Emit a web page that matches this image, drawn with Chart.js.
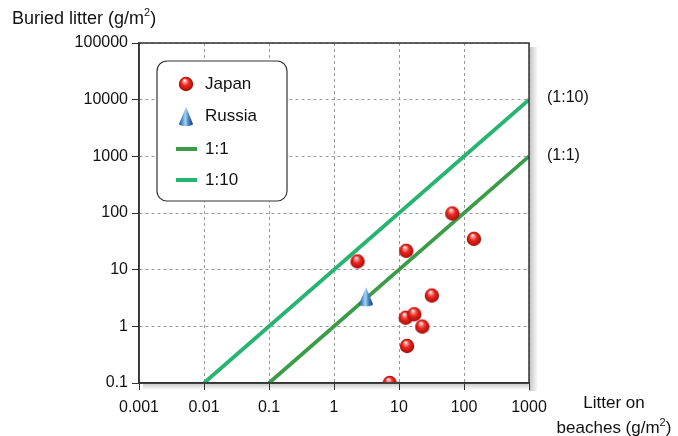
<!DOCTYPE html>
<html>
<head>
<meta charset="utf-8">
<script src="https://cdn.jsdelivr.net/npm/chart.js@4"></script>
<style>
  html, body { margin: 0; padding: 0; background: #fff; }
</style>
</head>
<body>
<canvas id="chart" width="678" height="436"></canvas>
<script>
// tick values on both log axes
const xTicks = [0.001, 0.01, 0.1, 1, 10, 100, 1000];
const yTicks = [0.1, 1, 10, 100, 1000, 10000, 100000];

// litter on beaches (x) vs buried litter (y), g/m2
const japanX = [2.3, 12.9, 66, 142, 32, 12.7, 17.2, 22.8, 13.3, 7.2];
const japanY = [14, 21.5, 98, 35, 3.5, 1.42, 1.63, 0.99, 0.45, 0.1];
const russiaX = [3.1];
const russiaY = [3.4];

// reference lines
const oneToOneX = [0.1, 1000];
const oneToOneY = [0.1, 1000];
const oneToTenX = [0.01, 1000];
const oneToTenY = [0.1, 10000];

const FONT = "'Liberation Sans', Arial, sans-serif";

function pts(xs, ys) {
    return xs.map((x, i) => ({ x: x, y: ys[i] }));
}

function makeSphere() {
    const c = document.createElement('canvas');
    c.width = 22; c.height = 32;
    const g = c.getContext('2d');
    const cx = 11, cy = 16, r = 7.2;
    // soft shadow underneath
    const sh = g.createRadialGradient(cx, cy + r + 2, 0, cx, cy + r + 2, 8);
    sh.addColorStop(0, 'rgba(120,120,120,0.55)');
    sh.addColorStop(1, 'rgba(120,120,120,0)');
    g.save();
    g.translate(cx, cy + r + 2);
    g.scale(1, 0.45);
    g.fillStyle = sh;
    g.beginPath(); g.arc(0, 0, 8, 0, Math.PI * 2); g.fill();
    g.restore();
    const grad = g.createRadialGradient(cx - 1.5, cy - 3.8, 0.3, cx, cy, r);
    grad.addColorStop(0, '#ffffff');
    grad.addColorStop(0.18, '#ff9a9a');
    grad.addColorStop(0.5, '#e8281f');
    grad.addColorStop(0.85, '#c0120c');
    grad.addColorStop(1, '#900806');
    g.fillStyle = grad;
    g.beginPath(); g.arc(cx, cy, r, 0, Math.PI * 2); g.fill();
    return c;
}

function makeCone() {
    const c = document.createElement('canvas');
    c.width = 22; c.height = 34;
    const g = c.getContext('2d');
    const cx = 11, top = 8, base = 25, hw = 7;
    const sh = g.createRadialGradient(cx, base + 3, 0, cx, base + 3, 8);
    sh.addColorStop(0, 'rgba(120,120,120,0.5)');
    sh.addColorStop(1, 'rgba(120,120,120,0)');
    g.save();
    g.translate(cx, base + 3);
    g.scale(1, 0.45);
    g.fillStyle = sh;
    g.beginPath(); g.arc(0, 0, 8, 0, Math.PI * 2); g.fill();
    g.restore();
    const grad = g.createLinearGradient(cx - hw, 0, cx + hw, 0);
    grad.addColorStop(0, '#1a4f8c');
    grad.addColorStop(0.3, '#6aa8dc');
    grad.addColorStop(0.45, '#a9d3f2');
    grad.addColorStop(0.7, '#3f7fc0');
    grad.addColorStop(1, '#123a6e');
    g.fillStyle = grad;
    g.beginPath();
    g.moveTo(cx, top);
    g.lineTo(cx + hw, base);
    g.ellipse(cx, base, hw, 2.2, 0, 0, Math.PI);
    g.closePath();
    g.fill();
    return c;
}

const sphere = makeSphere();
const cone = makeCone();

// text with a raised small "2" (g/m2)
function supText(ctx, head, sup, tail, x, y, size, align) {
    ctx.font = size + 'px ' + FONT;
    const wh = ctx.measureText(head).width;
    const wt = ctx.measureText(tail).width;
    ctx.font = Math.round(size * 0.62) + 'px ' + FONT;
    const ws = ctx.measureText(sup).width;
    let x0 = x;
    if (align === 'center') x0 = x - (wh + ws + wt) / 2;
    ctx.textAlign = 'left';
    ctx.font = size + 'px ' + FONT;
    ctx.fillText(head, x0, y);
    ctx.fillText(tail, x0 + wh + ws, y);
    ctx.font = Math.round(size * 0.62) + 'px ' + FONT;
    ctx.fillText(sup, x0 + wh, y - size * 0.32);
}

const framePlugin = {
    id: 'frame',
    beforeDraw(chart) {
        const { ctx, chartArea: a } = chart;
        ctx.save();
        // grey drop shadow at right and bottom
        const gr = ctx.createLinearGradient(a.right, 0, a.right + 9, 0);
        gr.addColorStop(0, 'rgba(150,150,150,0.6)');
        gr.addColorStop(1, 'rgba(150,150,150,0)');
        ctx.fillStyle = gr;
        ctx.fillRect(a.right, a.top + 4, 9, a.bottom - a.top + 4);
        const gb = ctx.createLinearGradient(0, a.bottom, 0, a.bottom + 7);
        gb.addColorStop(0, 'rgba(150,150,150,0.55)');
        gb.addColorStop(1, 'rgba(150,150,150,0)');
        ctx.fillStyle = gb;
        ctx.fillRect(a.left + 4, a.bottom, a.right - a.left - 4, 7);
        ctx.restore();
    },
    afterDraw(chart) {
        const { ctx, chartArea: a, scales } = chart;
        ctx.save();
        ctx.strokeStyle = '#333';
        ctx.lineWidth = 1.5;
        ctx.strokeRect(a.left, a.top, a.right - a.left, a.bottom - a.top);

        ctx.fillStyle = '#111';
        ctx.font = '16px ' + FONT;
        ctx.textBaseline = 'middle';
        ctx.textAlign = 'left';
        ctx.fillText('(1:10)', a.right + 18, scales.y.getPixelForValue(10000) - 2);
        ctx.fillText('(1:1)', a.right + 18, scales.y.getPixelForValue(1000) - 1);

        supText(ctx, 'Buried litter (g/m', '2', ')', 12, 19, 18, 'left');
        ctx.font = '17px ' + FONT;
        ctx.textAlign = 'center';
        ctx.fillText('Litter on', 614, 403);
        supText(ctx, 'beaches (g/m', '2', ')', 614, 428, 17, 'center');

        // legend box
        const bx = a.left + 18, by = a.top + 18, bw = 130, bh = 140;
        ctx.beginPath();
        ctx.roundRect(bx, by, bw, bh, 10);
        ctx.fillStyle = '#fff';
        ctx.fill();
        ctx.strokeStyle = '#333';
        ctx.lineWidth = 1.2;
        ctx.stroke();

        const rows = [84, 116, 149, 180];
        chart.data.datasets.forEach((ds, i) => {
            const y = rows[i];
            const ix = bx + 29;
            if (ds.showLine) {
                ctx.strokeStyle = ds.borderColor;
                ctx.lineWidth = 4;
                ctx.beginPath();
                ctx.moveTo(ix - 10, y);
                ctx.lineTo(ix + 11, y);
                ctx.stroke();
            } else {
                const img = ds.pointStyle;
                ctx.drawImage(img, ix - img.width / 2, y - img.height / 2);
            }
            ctx.fillStyle = '#111';
            ctx.textAlign = 'left';
            ctx.font = '17px ' + FONT;
            ctx.fillText(ds.label, bx + 48, y);
        });
        ctx.restore();
    }
};

const ctx = document.getElementById('chart').getContext('2d');
new Chart(ctx, {
    type: 'scatter',
    data: {
        datasets: [
            {
                label: 'Japan',
                data: pts(japanX, japanY),
                pointStyle: sphere,
                order: 1
            },
            {
                label: 'Russia',
                data: pts(russiaX, russiaY),
                pointStyle: cone,
                order: 0
            },
            {
                label: '1:1',
                data: pts(oneToOneX, oneToOneY),
                showLine: true,
                borderColor: '#3b9c48',
                borderWidth: 3.8,
                pointRadius: 0,
                order: 3
            },
            {
                label: '1:10',
                data: pts(oneToTenX, oneToTenY),
                showLine: true,
                borderColor: '#25b570',
                borderWidth: 3.8,
                pointRadius: 0,
                order: 2
            }
        ]
    },
    options: {
        responsive: false,
        animation: false,
        events: [],
        layout: { padding: { top: 43, right: 149, left: 0, bottom: 0 } },
        plugins: {
            legend: { display: false },
            tooltip: { enabled: false }
        },
        scales: {
            x: {
                type: 'logarithmic',
                min: 0.001,
                max: 1000,
                afterBuildTicks: s => { s.ticks = xTicks.map(v => ({ value: v })); },
                afterFit: s => { s.height = 53; },
                ticks: {
                    callback: v => String(v),
                    color: '#111',
                    font: { family: FONT, size: 16 },
                    padding: 8,
                    maxRotation: 0,
                    autoSkip: false
                },
                grid: {
                    color: '#9a9a9a',
                    tickColor: '#333',
                    tickLength: 7,
                    tickBorderDash: []
                },
                border: { color: '#333', width: 1.5, dash: [3, 3] }
            },
            y: {
                type: 'logarithmic',
                min: 0.1,
                max: 100000,
                afterBuildTicks: s => { s.ticks = yTicks.map(v => ({ value: v })); },
                afterFit: s => { s.width = 139; },
                ticks: {
                    callback: v => String(v),
                    color: '#111',
                    font: { family: FONT, size: 16 },
                    padding: 4,
                    autoSkip: false
                },
                grid: {
                    color: '#9a9a9a',
                    tickColor: '#333',
                    tickLength: 7,
                    tickBorderDash: []
                },
                border: { color: '#333', width: 1.5, dash: [3, 3] }
            }
        }
    },
    plugins: [framePlugin]
});
</script>
</body>
</html>
